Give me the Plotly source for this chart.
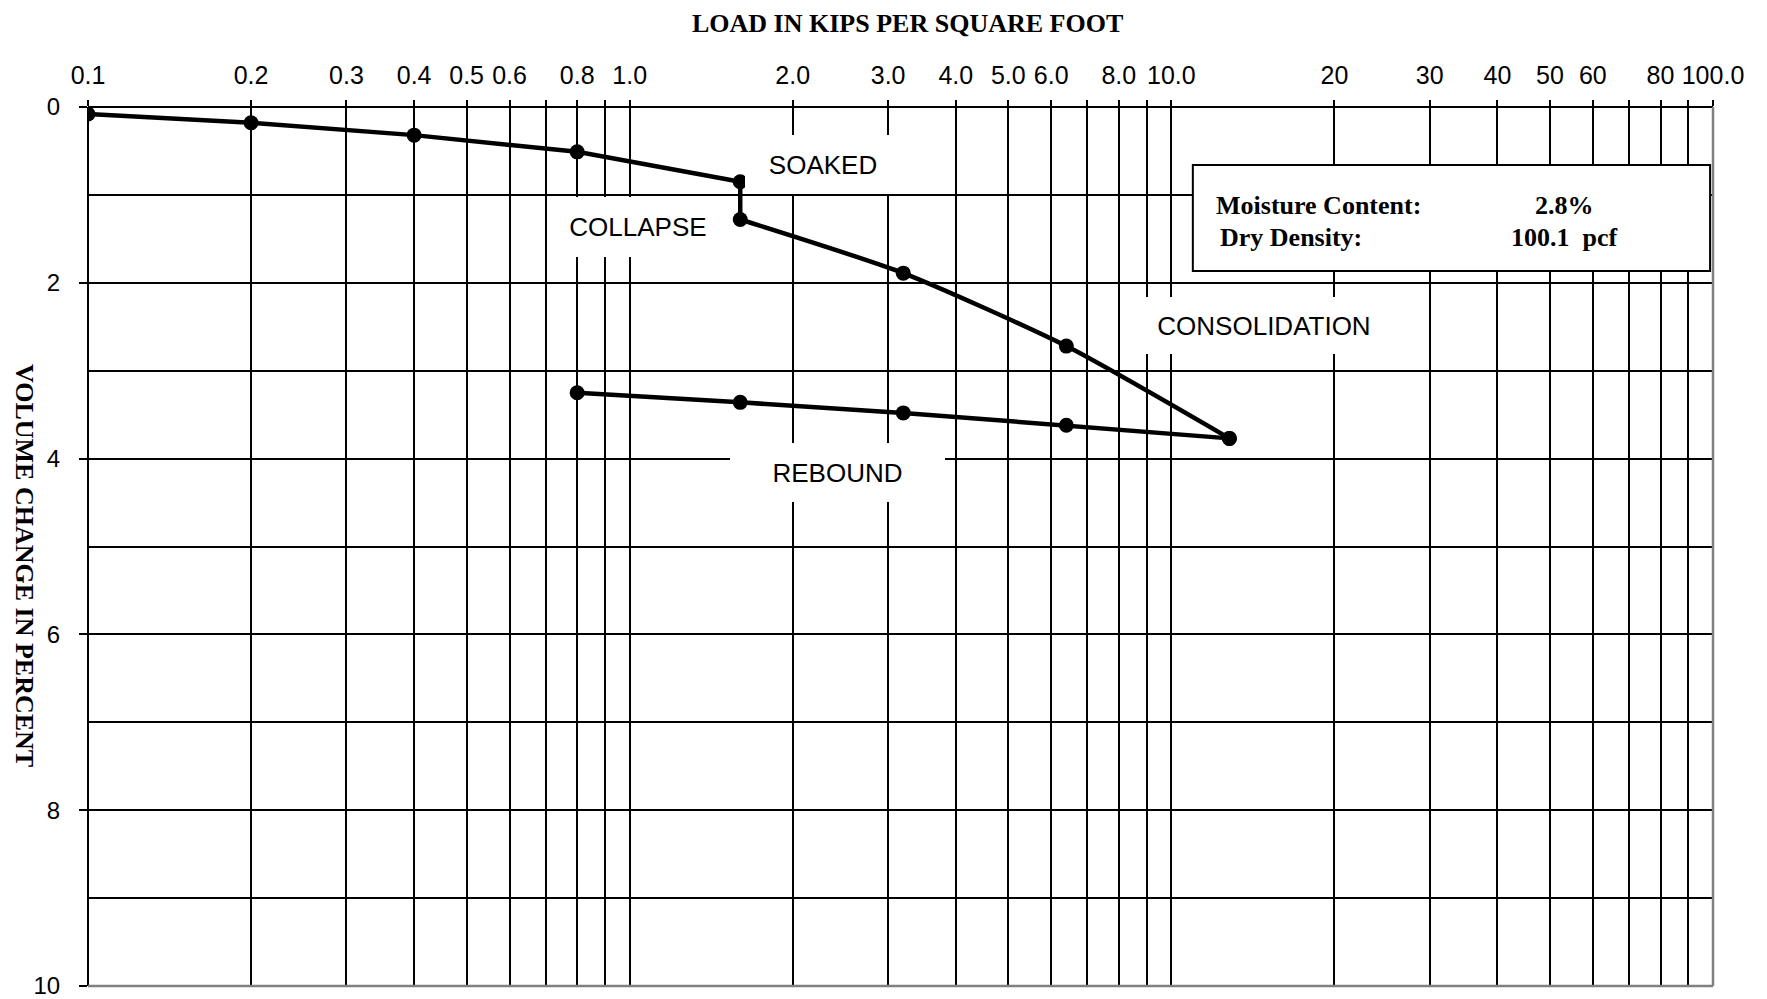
import math
import plotly.graph_objects as go

# ---- data ----
soaked_load = [0.1, 0.2, 0.4, 0.8, 1.6]
soaked_change = [0.08, 0.18, 0.32, 0.51, 0.85]

collapse_load = [1.6, 1.6]
collapse_change = [0.85, 1.28]

consol_load = [1.6, 3.2, 6.4, 12.8]
consol_change = [1.28, 1.89, 2.72, 3.77]

rebound_load = [12.8, 6.4, 3.2, 1.6, 0.8]
rebound_change = [3.77, 3.62, 3.48, 3.36, 3.25]

x_tick_vals = [0.1, 0.2, 0.3, 0.4, 0.5, 0.6, 0.7, 0.8, 0.9,
               1, 2, 3, 4, 5, 6, 7, 8, 9,
               10, 20, 30, 40, 50, 60, 70, 80, 90, 100]
x_tick_text = ["0.1", "0.2", "0.3", "0.4", "0.5", "0.6", "", "0.8", "",
               "1.0", "2.0", "3.0", "4.0", "5.0", "6.0", "", "8.0", "",
               "10.0", "20", "30", "40", "50", "60", "", "80", "", "100.0"]

y_tick_vals = [0, 2, 4, 6, 8, 10]

# region labels: (text, load, change)
region_labels = [
    ("SOAKED", 2.27, 0.653),
    ("COLLAPSE", 1.035, 1.364),
    ("REBOUND", 2.416, 4.153),
    ("CONSOLIDATION", 14.82, 2.483),
]
label_box_w = [156, 164, 215, 258]
label_box_h = [59, 60, 59, 57]

moisture_content = "2.8%"
dry_density = "100.1\u00a0 pcf"

SANS = "Liberation Sans, Arial, sans-serif"
SERIF = "Liberation Serif, Times New Roman, serif"

fig = go.Figure()

line_style = dict(color="black", width=4.5)
marker_style = dict(color="black", size=15)

fig.add_trace(go.Scatter(x=collapse_load, y=collapse_change, mode="lines",
                         line=line_style, showlegend=False))
fig.add_trace(go.Scatter(x=soaked_load, y=soaked_change, mode="lines+markers",
                         line=line_style, marker=marker_style, showlegend=False))
fig.add_trace(go.Scatter(x=consol_load, y=consol_change, mode="lines+markers",
                         line=dict(color="black", width=4.5, shape="spline", smoothing=0.6),
                         marker=marker_style, showlegend=False))
fig.add_trace(go.Scatter(x=rebound_load, y=rebound_change, mode="lines+markers",
                         line=line_style, marker=marker_style, showlegend=False))

fig.update_layout(
    width=1759, height=991,
    margin=dict(l=80, r=54, t=99, b=13, autoexpand=False),
    paper_bgcolor="white", plot_bgcolor="white",
    xaxis=dict(
        type="log", range=[-1, 2], side="top", automargin=False,
        tickvals=x_tick_vals, ticktext=x_tick_text,
        ticks="outside", ticklen=6, tickwidth=2, tickcolor="black",
        showgrid=True, gridcolor="black", gridwidth=2,
        showline=False, zeroline=False,
        tickfont=dict(family=SANS, size=25, color="black"),
        ticklabelstandoff=6, ticklabeloverflow="allow",
    ),
    yaxis=dict(
        range=[10, 0], tickvals=y_tick_vals, automargin=False,
        ticks="outside", ticklen=8, tickwidth=1.5, tickcolor="black",
        showgrid=True, gridcolor="black", gridwidth=2,
        minor=dict(dtick=1, showgrid=True, gridcolor="black", gridwidth=2, ticks=""),
        showline=False, zeroline=False,
        tickfont=dict(family=SANS, size=24, color="black"),
        ticklabelstandoff=14, ticklabeloverflow="allow",
    ),
)

shapes = [
    # borders
    dict(type="line", xref="paper", yref="paper", x0=0, x1=0, y0=0, y1=1,
         line=dict(color="black", width=2), layer="above"),
    dict(type="line", xref="paper", yref="paper", x0=0, x1=1, y0=1, y1=1,
         line=dict(color="black", width=2), layer="above"),
    dict(type="line", xref="paper", yref="paper", x0=0, x1=1, y0=0, y1=0,
         line=dict(color="#808080", width=2.5), layer="above"),
    dict(type="line", xref="paper", yref="paper", x0=1, x1=1, y0=0, y1=1,
         line=dict(color="#808080", width=2.5), layer="above"),
    # info box
    dict(type="rect", xref="paper", yref="paper", x0=0.6799, x1=0.9982, y0=0.8134, y1=0.934,
         line=dict(color="black", width=2), fillcolor="white", layer="above"),
]
fig.update_layout(shapes=shapes)

annotations = []
for (txt, xv, yv), w, h in zip(region_labels, label_box_w, label_box_h):
    annotations.append(dict(
        text=txt, x=math.log10(xv), y=yv, xref="x", yref="y",
        showarrow=False, bgcolor="white", width=w, height=h,
        borderpad=0, borderwidth=0, align="center", valign="middle",
        font=dict(family=SANS, size=26, color="black"),
    ))

info_font = dict(family=SERIF, size=26, color="black", weight="bold")
annotations += [
    dict(text="Moisture Content:", x=0.6928, y=0.8885, xref="paper", yref="paper",
         xanchor="left", yanchor="middle", showarrow=False, font=info_font),
    dict(text="Dry Density:", x=0.6953, y=0.851, xref="paper", yref="paper",
         xanchor="left", yanchor="middle", showarrow=False, font=info_font),
    dict(text=moisture_content, x=0.9089, y=0.8885, xref="paper", yref="paper",
         xanchor="center", yanchor="middle", showarrow=False, font=info_font),
    dict(text=dry_density, x=0.9089, y=0.851, xref="paper", yref="paper",
         xanchor="center", yanchor="middle", showarrow=False, font=info_font),
    # axis titles
    dict(text="LOAD IN KIPS PER SQUARE FOOT", x=0.5045, y=1.1126, xref="paper", yref="paper",
         xanchor="center", yanchor="top", showarrow=False, borderpad=0,
         font=dict(family=SERIF, size=26, color="black", weight="bold")),
    dict(text="VOLUME CHANGE IN PERCENT", x=-0.0490, y=0.478, xref="paper", yref="paper",
         xanchor="left", yanchor="middle", showarrow=False, textangle=90, borderpad=0,
         font=dict(family=SERIF, size=26, color="black", weight="bold")),
]
fig.update_layout(annotations=annotations)

fig.write_html("out.html")
